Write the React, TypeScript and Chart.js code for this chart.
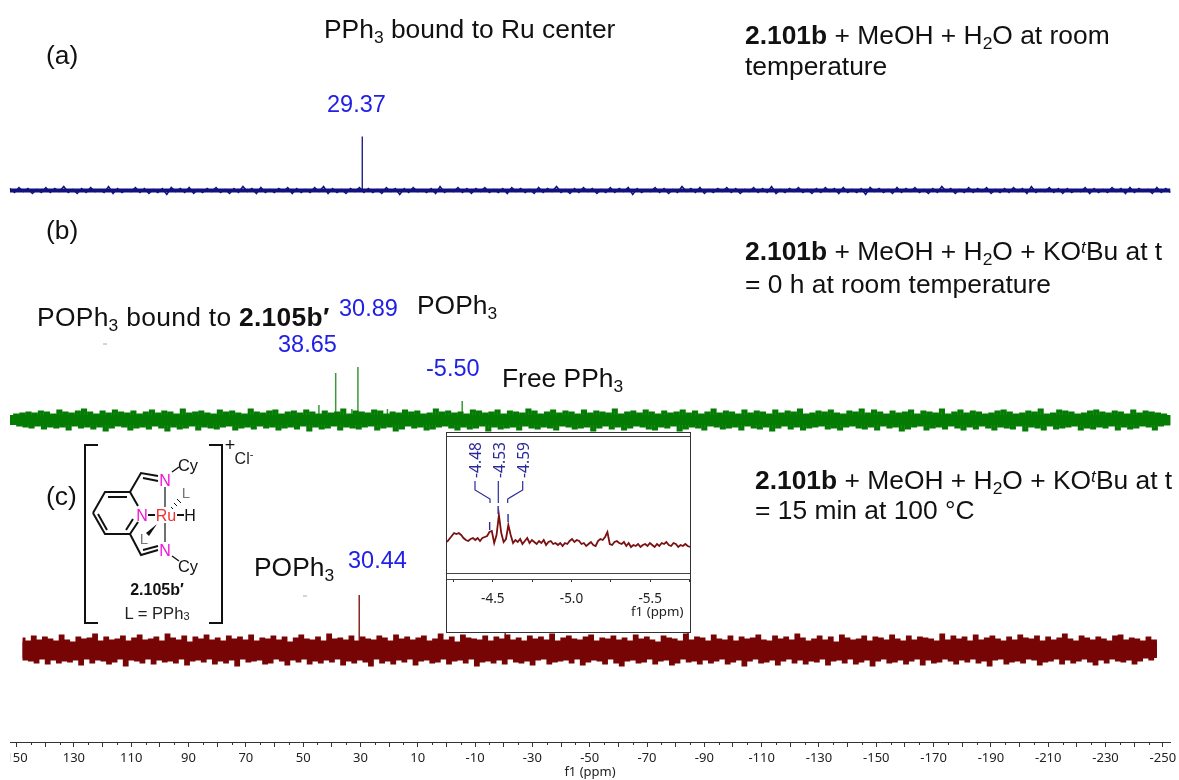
import React, { useEffect, useRef } from "react";
import { Chart, registerables } from "chart.js";

Chart.register(...registerables);

// ---- spectrum (a): noise trace, ppm from 152.3 to -252.6
const blueNoise = [
2,-2,3,-1,2,-3,1,-2,3,-2,2,-1,4,-2,1,-3,2,-2,3,-1,1,-2,4,-3,2,-2,1,-1,3,-2,2,-3,1,-2,2,-4,3,-1,2,-2,
3,-3,1,-2,2,-1,3,-2,1,-3,2,-2,4,-1,2,-3,3,-2,1,-2,2,-1,3,-3,2,-2,1,-2,3,-1,4,-3,2,-2,1,-3,2,-1,3,-2,
2,-2,1,-3,3,-1,2,-4,2,-2,3,-1,1,-2,2,-3,4,-2,1,-1,3,-2,2,-3,2,-1,3,-2,1,-2,2,-3,3,-1,2,-2,1,-3,3,-2,
2,-1,4,-2,1,-3,2,-2,3,-1,2,-3,1,-2,3,-2,2,-1,3,-4,2,-2,1,-1,3,-2,2,-3,1,-2,4,-1,2,-2,3,-3,1,-2,2,-1,
3,-2,2,-3,1,-1,3,-2,2,-2,4,-3,1,-2,2,-1,3,-2,1,-3,2,-2,3,-1,2,-3,3,-2,1,-2,2,-4,3,-1,2,-2,1,-3,3,-2,
2,-1,3,-2,1,-3,2,-2,4,-1,2,-3,1,-2,3,-2,2,-1,3,-3,1,-2,2,-2,3,-1,2,-3,4,-2,1,-1,3,-2,2,-3,2,-2,1,-1,
3,-3,2,-2,1,-2,3,-1,2,-3,3,-2,2,-1,1,-3,3,-2,2,-2];
const blueStart = 152.3;
const blueEnd = -252.6;
const blueShifts = [29.37];
const blueHeights = [54];

// ---- spectrum (b)
const greenNoise = [
3,-3,5,-5,6,-6,7,-7,6,-5,8,-8,7,-6,5,-7,9,-6,7,-9,6,-5,8,-7,10,-6,7,-8,5,-6,8,-10,6,-7,9,-5,7,-6,6,-9,
8,-7,5,-6,7,-8,9,-5,6,-7,8,-10,7,-6,5,-8,10,-7,6,-5,7,-9,8,-6,6,-7,5,-8,9,-6,7,-5,8,-9,6,-7,5,-6,10,-8,
7,-5,6,-7,8,-6,9,-9,5,-7,7,-6,8,-8,6,-5,9,-10,7,-6,5,-8,8,-7,6,-5,7,-9,10,-6,5,-7,8,-8,7,-6,6,-5,9,-9,
8,-7,5,-6,7,-10,6,-8,9,-5,7,-7,8,-6,5,-9,6,-8,10,-6,7,-5,8,-7,6,-9,7,-6,5,-8,9,-7,8,-5,6,-10,7,-6,9,-8,
5,-7,8,-6,7,-9,6,-5,10,-7,8,-8,5,-6,7,-7,9,-9,6,-5,8,-6,7,-8,5,-7,9,-6,6,-10,8,-7,7,-5,6,-8,10,-6,5,-9,
7,-7,8,-5,6,-6,9,-8,7,-9,5,-6,8,-7,6,-5,7,-10,9,-8,6,-6,8,-7,5,-9,7,-5,10,-6,6,-8,8,-7,7,-6,5,-9,9,-5,
6,-7,8,-8,7,-6,5,-10,9,-7,6,-5,8,-8,7,-6,10,-9,5,-7,6,-6,8,-5,7,-8,9,-7,6,-9,5,-6,8,-5,7,-7,10,-8,6,-6,
9,-9,7,-5,5,-7,8,-6,6,-10,7,-8,9,-6,5,-5,8,-9,7,-7,6,-6,10,-8,5,-5,7,-7,9,-9,6,-6,8,-8,7,-5,5,-7,6,-9,
8,-6,9,-7,7,-8,5,-5,6,-10,8,-6,7,-7,10,-9,5,-5,6,-8,9,-7,8,-6,7,-5,5,-9,6,-7,8,-8,9,-6,7,-7,6,-5,8,-9,
7,-6,5,-8,9,-7,6,-5,8,-6,7,-9,6,-5,5,-4,3];
const greenStart = 152.3;
const greenEnd = -252.6;
const greenShifts = [44.5, 38.65, 33.0, 30.89, 20.6, -5.5];
const greenHeights = [15, 47, 11, 53, 11, 19];

// ---- spectrum (c)
const redNoise = [
11,-9,8,-10,13,-12,9,-8,12,-13,10,-9,8,-12,14,-10,9,-11,7,-9,12,-14,10,-8,11,-12,15,-9,8,-10,12,-13,9,-11,10,-8,13,-15,8,-9,11,-10,
14,-12,9,-8,10,-13,12,-9,8,-11,15,-10,11,-12,9,-8,13,-14,7,-10,12,-9,10,-11,14,-8,9,-13,11,-10,8,-12,13,-9,10,-15,12,-8,9,-11,14,-10,
8,-9,11,-13,10,-12,13,-8,9,-10,12,-14,7,-9,11,-11,14,-8,10,-13,9,-10,12,-12,8,-9,15,-11,10,-8,11,-14,9,-10,13,-12,8,-9,12,-11,10,-15,
9,-8,13,-12,11,-10,8,-13,14,-9,10,-11,12,-8,9,-14,11,-10,13,-9,8,-12,10,-11,15,-8,9,-13,12,-10,7,-9,14,-12,11,-8,10,-15,9,-11,13,-10,
8,-12,12,-9,10,-13,14,-8,9,-11,11,-12,8,-10,13,-14,10,-9,12,-8,9,-13,15,-11,8,-10,11,-9,13,-12,10,-8,9,-14,12,-11,14,-9,8,-10,11,-13,
10,-8,13,-12,9,-15,11,-10,8,-9,14,-12,10,-11,12,-8,9,-13,7,-10,13,-9,11,-14,10,-12,8,-8,15,-11,9,-10,12,-13,11,-9,8,-12,14,-10,10,-8,
9,-13,13,-11,8,-9,12,-15,10,-10,11,-8,14,-12,9,-11,8,-9,13,-14,10,-10,12,-8,9,-12,15,-9,11,-13,8,-10,10,-11,13,-8,9,-14,12,-10,7,-9,
14,-12,11,-8,9,-13,10,-11,13,-9,8,-15,12,-10,11,-8,9,-12,14,-11,10,-9,8,-13,13,-10,9,-8,12,-14,11,-9,10,-12,8,-11,15,-8,9,-10,13,-13,
10,-9,12,-11,8,-8,14,-12,9,-10,11,-15,13,-9,10,-8,8,-13,12,-11,9,-10,14,-12,11,-8,10,-9,13,-14,8,-11,12,-10,9,-8,11,-13,15,-9,10,-12,
8,-10,13,-8,11,-11,9,-14,12,-9,10,-12,8,-8,13,-10,14,-11,9,-9,11,-13,10,-10,8,-7,12,-9,9,-6];
const redStart = 147.9;
const redEnd = -247.9;
const redShifts = [30.44, -20.5, -84.3];
const redHeights = [55, 18, 18];

// ---- axis
const axisMinPpm = -252.5;
const axisMaxPpm = 152.3;
const axisStep = 10;

// ---- inset (c): -4.2 to -5.75 ppm
const insetTrace = [37,40,43,46,45,46,44,41,39,38,40,41,39,41,38,41,42,43,47,48,36,44,64,46,37,40,54,44,36,39,37,40,35,38,41,36,39,37,35,38,36,39,34,37,38,35,36,34,36,33,36,35,38,40,37,39,38,35,36,33,35,37,34,33,38,40,39,42,47,35,34,37,38,36,35,37,33,36,32,34,33,35,32,34,35,33,36,34,32,35,33,36,35,37,34,33,36,35,32,34,33,35,33,32];
const insetStart = -4.209;
const insetEnd = -5.753;
const insetPeakShifts = [-4.48, -4.534, -4.597];
const insetTickLabels = [-4.5, -5.0, -5.5];

const NAVY = "#12127f";
const GREEN = "#047c04";
const RED = "#780505";
const LABEL_BLUE = "#2020e6";
const SANS = "'Liberation Sans', Arial, sans-serif";
const AXIS_FONT = "'Noto Sans', Tahoma, sans-serif";

const BASE_A = 551.5;
const BASE_B = 322;
const BASE_C = 92;

function traceOf(noise: number[], start: number, end: number, base: number) {
  return noise.map((v, i) => ({ x: start + ((end - start) * i) / (noise.length - 1), y: base + v }));
}
function sticksOf(shifts: number[], heights: number[], base: number) {
  const pts: { x: number; y: number }[] = [];
  shifts.forEach((s, i) => {
    pts.push({ x: s, y: base }, { x: s, y: base + heights[i] }, { x: s, y: NaN });
  });
  return pts;
}
function line(data: any, color: string, width: number, stepped: any = false) {
  return {
    type: "line",
    data,
    borderColor: color,
    borderWidth: width,
    pointRadius: 0,
    tension: 0,
    stepped,
    spanGaps: false,
    clip: false as const,
    parsing: false as const,
    normalized: true,
  };
}

const noPad = (s: any, h: number) => {
  s.height = h;
  s.paddingLeft = 0;
  s.paddingRight = 0;
};

const minorTicks = {
  id: "minorTicks",
  afterDraw(chart: any) {
    const s = chart.scales.x;
    const ctx = chart.ctx;
    ctx.save();
    ctx.strokeStyle = "#333";
    ctx.lineWidth = 1;
    for (let v = -245; v <= 145; v += 10) {
      const p = Math.round(s.getPixelForValue(v)) + 0.5;
      ctx.beginPath();
      ctx.moveTo(p, s.top);
      ctx.lineTo(p, s.top + 3);
      ctx.stroke();
    }
    ctx.restore();
  },
};

const insetFrame = {
  id: "insetFrame",
  afterDraw(chart: any) {
    const { ctx, chartArea } = chart;
    const s = chart.scales.x;
    const y = chart.scales.y;
    ctx.save();
    ctx.strokeStyle = "#444";
    ctx.lineWidth = 1;
    [chartArea.top + 0.5, chartArea.bottom - 5.5].forEach((p: number) => {
      ctx.beginPath();
      ctx.moveTo(chartArea.left, p);
      ctx.lineTo(chartArea.right, p);
      ctx.stroke();
    });
    // peak markers
    ctx.strokeStyle = "#2a2a9a";
    ctx.lineWidth = 1.4;
    const tops = [y.getPixelForValue(57), y.getPixelForValue(73), y.getPixelForValue(65)];
    insetPeakShifts.forEach((v, i) => {
      const p = s.getPixelForValue(v);
      ctx.beginPath();
      ctx.moveTo(p, tops[i]);
      ctx.lineTo(p, tops[i] + 8);
      ctx.stroke();
    });
    ctx.restore();
  },
};

function T({ x, y, size = 26.4, color = "#111", font = SANS, spacing = 0, children }: any) {
  return (
    <div
      style={{
        position: "absolute",
        left: x,
        top: y,
        transform: "translateY(-50%)",
        fontFamily: font,
        fontSize: size,
        lineHeight: 1,
        letterSpacing: spacing,
        color,
        whiteSpace: "nowrap",
      }}
    >
      {children}
    </div>
  );
}
const Sub = ({ children }: any) => (
  <span style={{ fontSize: "0.66em", position: "relative", top: "0.28em" }}>{children}</span>
);
const Sup = ({ children }: any) => (
  <span style={{ fontSize: "0.66em", position: "relative", top: "-0.38em" }}>{children}</span>
);

function Structure() {
  const s = { stroke: "#111", strokeWidth: 2, fill: "none" };
  const t = { fontFamily: SANS, textAnchor: "middle" as const, dominantBaseline: "central" as const };
  return (
    <svg width={1179} height={780} style={{ position: "absolute", left: 0, top: 0, pointerEvents: "none" }}>
      <polyline {...s} points="98,445 85,445 85,623 98,623" />
      <polyline {...s} points="209,445 222,445 222,623 209,623" />
      <polyline {...s} points="93,513 105,492 130,492 138,506" />
      <polyline {...s} points="93,513 105,534 130,534 138,522" />
      <line {...s} x1={108} y1={497} x2={127} y2={497} />
      <line {...s} x1={98} y1={514} x2={107} y2={530} />
      <line {...s} x1={126} y1={530} x2={133} y2={519} />
      <polyline {...s} points="130,492 141,473 158,476" />
      <line {...s} x1={143} y1={478} x2={158} y2={481} />
      <polyline {...s} points="130,534 141,555 158,550" />
      <line {...s} x1={143} y1={550} x2={158} y2={546} />
      <line {...s} strokeWidth={1.4} x1={172} y1={472} x2={179} y2={467} />
      <line {...s} strokeWidth={1.4} x1={172} y1={556} x2={179} y2={561} />
      <line {...s} strokeWidth={1.2} x1={165} y1={487} x2={165} y2={507} />
      <line {...s} strokeWidth={1.2} x1={165} y1={523} x2={165} y2={542} />
      <line {...s} x1={148} y1={515} x2={155} y2={515} />
      <line {...s} x1={177} y1={515} x2={184} y2={515} />
      <g {...s} strokeWidth={1}>
        <line x1={171} y1={507} x2={173} y2={509} />
        <line x1={174} y1={503} x2={177} y2={506} />
        <line x1={177} y1={499} x2={181} y2={503} />
      </g>
      <polygon points="157,524 146,533 149,536" fill="#111" />
      <text {...t} x={165} y={480} fontSize={16} fill="#f012d8">N</text>
      <text {...t} x={142} y={515} fontSize={16} fill="#f012d8">N</text>
      <text {...t} x={165} y={550} fontSize={16} fill="#f012d8">N</text>
      <text {...t} x={166} y={515} fontSize={16} fill="#f03030">Ru</text>
      <text {...t} x={190} y={515} fontSize={16} fill="#111">H</text>
      <text {...t} x={188} y={465} fontSize={16.4} fill="#111">Cy</text>
      <text {...t} x={188} y={566} fontSize={16.4} fill="#111">Cy</text>
      <text {...t} x={186} y={492} fontSize={15} fill="#777">L</text>
      <text {...t} x={144} y={538} fontSize={15} fill="#777">L</text>
      <text {...t} x={157} y={589} fontSize={16} fontWeight="bold" fill="#111">2.105b′</text>
      <text {...t} x={157} y={613} fontSize={16.6} fill="#222">L = PPh<tspan fontSize={11} dy={3}>3</tspan></text>
      <text {...t} x={230} y={445} fontSize={18} fill="#111">+</text>
      <text {...t} x={244} y={458} fontSize={16} fill="#222">Cl<tspan fontSize={11} dy={-4}>-</tspan></text>
      {/* inset multiplet connectors */}
      <g stroke="#2a2a9a" strokeWidth={1.2} fill="none">
        <polyline points="475,481 475,490 490,499 490,503" />
        <polyline points="498.3,481 498.3,503" />
        <polyline points="522.7,481 522.7,490 507.7,499 507.7,503" />
      </g>
      {[["-4.48", 475], ["-4.53", 498.5], ["-4.59", 523]].map(([lab, x]: any) => (
        <text
          key={lab}
          transform={`translate(${x} 460) rotate(-90)`}
          textAnchor="middle"
          dominantBaseline="central"
          fontFamily={AXIS_FONT}
          fontSize={15.5}
          fill="#2a2a9a"
        >
          {lab}
        </text>
      ))}
      {/* stray marks under the POPh3 labels */}
      <line x1={103} y1={344} x2={107} y2={344} stroke="#aaa" strokeWidth={1} />
      <line x1={303} y1={596} x2={307} y2={596} stroke="#aaa" strokeWidth={1} />
    </svg>
  );
}

export default function App() {
  const mainRef = useRef<HTMLCanvasElement>(null);
  const insetRef = useRef<HTMLCanvasElement>(null);

  useEffect(() => {
    const main = new Chart(mainRef.current as HTMLCanvasElement, {
      type: "line",
      plugins: [minorTicks],
      data: {
        datasets: [
          line([{ x: blueStart, y: BASE_A }, { x: blueEnd, y: BASE_A }], NAVY, 4),
          line(traceOf(blueNoise, blueStart, blueEnd, BASE_A), NAVY, 1.5),
          line(sticksOf(blueShifts, blueHeights, BASE_A), NAVY, 1.3),
          line([{ x: greenStart, y: BASE_B }, { x: greenEnd, y: BASE_B }], GREEN, 10),
          line(traceOf(greenNoise, greenStart, greenEnd, BASE_B), GREEN, 3, "middle"),
          line(sticksOf(greenShifts, greenHeights, BASE_B), "#3d963d", 1.5),
          line([{ x: redStart, y: BASE_C }, { x: redEnd, y: BASE_C }], RED, 16),
          line(traceOf(redNoise, redStart, redEnd, BASE_C), RED, 3, "middle"),
          line(sticksOf(redShifts, redHeights, BASE_C), RED, 1.3),
        ] as any,
      },
      options: {
        animation: false,
        responsive: false,
        events: [],
        layout: { autoPadding: false, padding: { left: 10, right: 9, top: 0, bottom: 0 } },
        plugins: { legend: { display: false }, tooltip: { enabled: false } },
        scales: {
          x: {
            type: "linear",
            reverse: true,
            min: axisMinPpm,
            max: axisMaxPpm,
            afterFit: (s: any) => noPad(s, 38),
            border: { color: "#333", width: 1 },
            grid: { drawOnChartArea: false, tickLength: 5, tickColor: "#333", tickWidth: 1 },
            ticks: {
              stepSize: axisStep,
              includeBounds: false,
              autoSkip: false,
              maxRotation: 0,
              padding: 3,
              color: "#222",
              font: { family: AXIS_FONT, size: 13 },
              callback: (v: any) => (Math.abs((Number(v) - 10) % 20) < 0.01 ? String(v) : ""),
            },
            title: {
              display: true,
              text: "f1 (ppm)",
              color: "#222",
              font: { family: AXIS_FONT, size: 13 },
              padding: { top: 0, bottom: 0 },
            },
          },
          y: { display: false, min: 0, max: 742 },
        },
      } as any,
    });

    const inset = new Chart(insetRef.current as HTMLCanvasElement, {
      type: "line",
      plugins: [insetFrame],
      data: {
        datasets: [
          line(traceOf(insetTrace, insetStart, insetEnd, 0), "#7a1010", 1.8),
        ] as any,
      },
      options: {
        animation: false,
        responsive: false,
        events: [],
        layout: { autoPadding: false, padding: { left: 0, right: 0, top: 3, bottom: 0 } },
        plugins: { legend: { display: false }, tooltip: { enabled: false } },
        scales: {
          x: {
            type: "linear",
            reverse: true,
            min: insetEnd,
            max: insetStart,
            afterFit: (s: any) => noPad(s, 53),
            border: { color: "#444", width: 1 },
            grid: { drawOnChartArea: false, tickLength: 3, tickColor: "#333" },
            ticks: {
              stepSize: 0.25,
              includeBounds: false,
              autoSkip: false,
              maxRotation: 0,
              padding: 9,
              color: "#222",
              font: { family: AXIS_FONT, size: 13.5 },
              callback: (v: any) =>
                insetTickLabels.some((t) => Math.abs(t - Number(v)) < 1e-6) ? Number(v).toFixed(1) : "",
            },
          },
          y: { display: false, min: 0, max: 143 },
        },
      } as any,
    });

    return () => {
      main.destroy();
      inset.destroy();
    };
  }, []);

  const B = ({ children }: any) => <b>{children}</b>;

  return (
    <div style={{ position: "fixed", left: 0, top: 0, width: 1179, height: 780, background: "#fff", overflow: "hidden" }}>
      <canvas ref={mainRef} width={1179} height={780} style={{ position: "absolute", left: 0, top: 0, filter: "blur(0.5px)" }} />
      <div style={{ position: "absolute", left: 0, top: 750, width: 10, height: 30, background: "#fff" }} />
      <div
        style={{
          position: "absolute",
          left: 446,
          top: 432,
          width: 243,
          height: 199,
          boxSizing: "content-box",
          border: "1px solid #333",
          background: "#fff",
        }}
      >
        <canvas ref={insetRef} width={243} height={199} style={{ display: "block" }} />
      </div>
      <Structure />
      <T x={631} y={612} size={13.3} color="#222" font={AXIS_FONT}>f1 (ppm)</T>

      <T x={46} y={55}>(a)</T>
      <T x={324} y={29}>PPh<Sub>3</Sub> bound to Ru center</T>
      <T x={327} y={105} size={23.5} color={LABEL_BLUE}>29.37</T>
      <T x={745} y={35}><B>2.101b</B> + MeOH + H<Sub>2</Sub>O at room</T>
      <T x={745} y={66}>temperature</T>

      <T x={46} y={230}>(b)</T>
      <T x={745} y={251}><B>2.101b</B> + MeOH + H<Sub>2</Sub>O + KO<Sup><i>t</i></Sup>Bu at t</T>
      <T x={745} y={284}>= 0 h at room temperature</T>
      <T x={37} y={317} spacing={0.3}>POPh<Sub>3</Sub> bound to <B>2.105b′</B></T>
      <T x={339} y={309} size={23.5} color={LABEL_BLUE}>30.89</T>
      <T x={417} y={305}>POPh<Sub>3</Sub></T>
      <T x={278} y={345} size={23.5} color={LABEL_BLUE}>38.65</T>
      <T x={426} y={369} size={23.5} color={LABEL_BLUE}>-5.50</T>
      <T x={502} y={378}>Free PPh<Sub>3</Sub></T>

      <T x={46} y={496}>(c)</T>
      <T x={755} y={480}><B>2.101b</B> + MeOH + H<Sub>2</Sub>O + KO<Sup><i>t</i></Sup>Bu at t</T>
      <T x={755} y={510}>= 15 min at 100 °C</T>
      <T x={254} y={567}>POPh<Sub>3</Sub></T>
      <T x={348} y={561} size={23.5} color={LABEL_BLUE}>30.44</T>
    </div>
  );
}
